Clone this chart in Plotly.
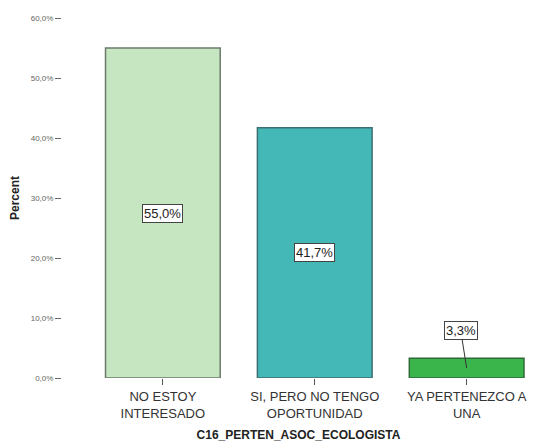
import plotly.graph_objects as go

categories = ["NO ESTOY<br>INTERESADO", "SI, PERO NO TENGO<br>OPORTUNIDAD", "YA PERTENEZCO A<br>UNA"]
percents = [55.0, 41.7, 3.3]
labels = ["55,0%", "41,7%", "3,3%"]
fill_colors = ["#c6e6c1", "#44b8b6", "#3ab54b"]
line_colors = ["#6b7b6b", "#3d6e72", "#2f6a38"]
tick_vals = [0, 10, 20, 30, 40, 50, 60]
tick_text = ["0,0%", "10,0%", "20,0%", "30,0%", "40,0%", "50,0%", "60,0%"]

x_idx = list(range(len(categories)))

fig = go.Figure()
fig.add_trace(go.Bar(
    x=x_idx, y=percents,
    marker=dict(color=fill_colors, line=dict(color=line_colors, width=1.5)),
    width=0.755,
    hoverinfo="skip",
))

annotations = []
for i, (v, lab) in enumerate(zip(percents, labels)):
    common = dict(
        x=i, y=v / 2, xref="x", yref="y", text=lab,
        font=dict(family="Liberation Sans, Arial", size=13, color="#222"),
        bgcolor="white", bordercolor="#444", borderwidth=1, borderpad=1,
    )
    if v > 10:
        annotations.append(dict(showarrow=False, **common))
    else:
        annotations.append(dict(showarrow=True, arrowhead=0, arrowwidth=1,
                                arrowcolor="#333", ax=-6, ay=-38, **common))

fig.update_layout(
    width=537, height=442,
    margin=dict(l=62, r=2, t=18, b=64),
    paper_bgcolor="white", plot_bgcolor="white",
    showlegend=False,
    annotations=annotations,
    font=dict(family="Liberation Sans, Arial", color="#333"),
    xaxis=dict(
        range=[-0.664, 2.45],
        tickmode="array", tickvals=x_idx, ticktext=categories,
        ticks="outside", ticklen=6, tickcolor="#555",
        tickfont=dict(size=13, color="#333"),
        showline=False, showgrid=False, zeroline=False,
        title=dict(text="<b>C16_PERTEN_ASOC_ECOLOGISTA</b>", font=dict(size=12, color="#222"), standoff=12),
    ),
    yaxis=dict(
        range=[0, 60],
        tickmode="array", tickvals=tick_vals, ticktext=tick_text,
        ticks="outside", ticklen=6, tickcolor="#666",
        tickfont=dict(size=8, color="#666"),
        showline=False, showgrid=False, zeroline=False,
        title=dict(text="<b>Percent</b>", font=dict(size=12, color="#222"), standoff=8),
    ),
)

fig.write_html("out.html", config={"displayModeBar": False},
               post_script="document.body.style.margin='0';")
